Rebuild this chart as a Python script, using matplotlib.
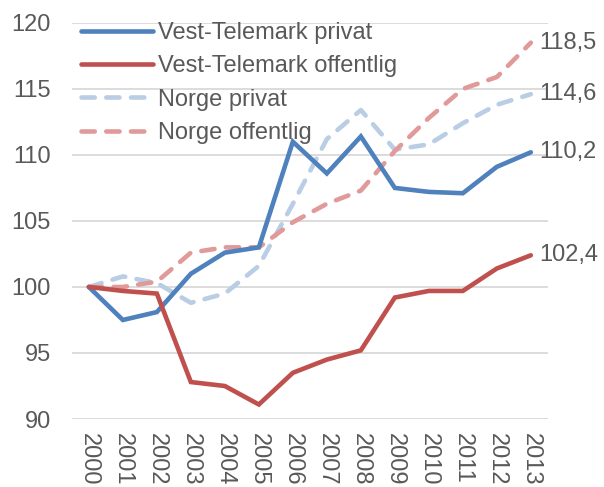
import matplotlib
matplotlib.use("Agg")
import matplotlib.pyplot as plt

plt.rcParams['font.family'] = ['Liberation Sans', 'DejaVu Sans']

years = ["2000", "2001", "2002", "2003", "2004", "2005", "2006",
         "2007", "2008", "2009", "2010", "2011", "2012", "2013"]
vt_privat = [100, 97.5, 98.1, 101.0, 102.6, 103.0, 111.0, 108.6, 111.4,
             107.5, 107.2, 107.1, 109.1, 110.2]
vt_offentlig = [100, 99.7, 99.5, 92.8, 92.5, 91.1, 93.5, 94.5, 95.2,
                99.2, 99.7, 99.7, 101.4, 102.4]
norge_privat = [100, 100.8, 100.3, 98.8, 99.5, 101.6, 106.3, 111.2, 113.4,
                110.4, 110.8, 112.4, 113.8, 114.6]
norge_offentlig = [100, 100.0, 100.4, 102.6, 103.0, 103.0, 104.9, 106.3, 107.3,
                   110.3, 112.8, 115.0, 115.9, 118.5]
end_labels = ["110,2", "102,4", "114,6", "118,5"]
series_names = ["Vest-Telemark privat", "Vest-Telemark offentlig",
                "Norge privat", "Norge offentlig"]

text_color = "#595959"
fs = 17
fig = plt.figure(figsize=(6.04, 4.87), dpi=100)
ax = fig.add_axes([0.119, 0.1396, 0.788, 0.8134])

x = list(range(len(years)))
lw = 3.3
l1, = ax.plot(x, vt_privat, color="#4F81BD", lw=lw, solid_capstyle='round',
              solid_joinstyle='miter', zorder=4)
l2, = ax.plot(x, vt_offentlig, color="#C0504D", lw=lw, solid_capstyle='round',
              solid_joinstyle='miter', zorder=4)
l3, = ax.plot(x, norge_privat, color="#B9CDE5", lw=lw, dashes=(2.9, 2.5),
              dash_capstyle='round', zorder=3)
l4, = ax.plot(x, norge_offentlig, color="#E09A99", lw=lw, dashes=(2.9, 2.5),
              dash_capstyle='round', zorder=3)

for vals, lab in zip([vt_privat, vt_offentlig, norge_privat, norge_offentlig], end_labels):
    ax.annotate(lab, xy=(x[-1], vals[-1]), xytext=(6, 0), textcoords='offset points',
                va='center', ha='left', fontsize=fs, color=text_color,
                annotation_clip=False)

ax.set_xlim(-0.5, len(years) - 0.5)
ax.set_ylim(90, 120)
ax.set_yticks([90, 95, 100, 105, 110, 115, 120])
ax.set_xticks(x)
ax.set_xticklabels(years, rotation=270, fontsize=fs, color=text_color)
ax.tick_params(axis='y', labelsize=fs, labelcolor=text_color, length=0, pad=15)
ax.tick_params(axis='x', length=0, pad=10)
for s in ax.spines.values():
    s.set_visible(False)
ax.grid(axis='y', color="#D9D9D9", lw=1.3, zorder=0)
ax.set_axisbelow(True)

leg = ax.legend([l1, l2, l3, l4], series_names, loc='upper left',
                bbox_to_anchor=(0.019, 1.002), frameon=False, fontsize=fs,
                handlelength=3.05, handletextpad=0.22, labelspacing=0.48,
                borderaxespad=0.0, borderpad=0.0, labelcolor=text_color)
leg.set_zorder(5)

fig.savefig("out.png", dpi=100)
